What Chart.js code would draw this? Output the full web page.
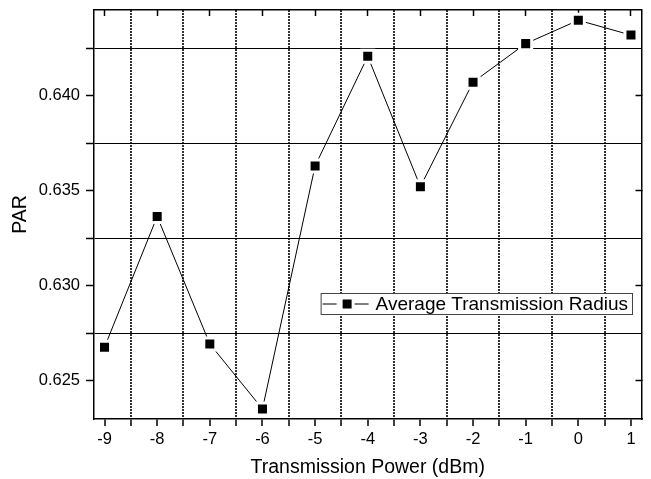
<!DOCTYPE html>
<html>
<head>
<meta charset="utf-8">
<script src="https://cdn.jsdelivr.net/npm/chart.js@4"></script>
<style>
  html, body { margin: 0; padding: 0; background: #fff; }
  #wrap { width: 651px; height: 479px; }
</style>
</head>
<body>
<div id="wrap"><canvas id="myChart" width="651" height="479"></canvas></div>
<script>
// data
const powerLevels = [-9, -8, -7, -6, -5, -4, -3, -2, -1, 0, 1];
const parValues = [0.62676, 0.63364, 0.62693, 0.62351, 0.6363, 0.64207, 0.63521, 0.64071, 0.64274, 0.64397, 0.64319];
const seriesName = "Average Transmission Radius";

// axis ticks
const xMajorTicks = [-9, -8, -7, -6, -5, -4, -3, -2, -1, 0, 1];
const xMinorTicks = [-8.5, -7.5, -6.5, -5.5, -4.5, -3.5, -2.5, -1.5, -0.5, 0.5];
const yMajorTicks = [0.625, 0.630, 0.635, 0.640];
const yMinorTicks = [0.6275, 0.6325, 0.6375, 0.6425];

const fontFamily = 'Arial, "Liberation Sans", sans-serif';

function isMinorX(v) {
  return !Number.isInteger(v);
}

function isMinorY(v) {
  return Math.round(v * 10000) % 50 !== 0;
}

function tickList(values) {
  return values.slice().sort((a, b) => a - b).map((v) => ({ value: v }));
}

// no extra room for half label heights, the frame sits at fixed spots
function noScalePadding(s) {
  s.paddingTop = 0;
  s.paddingBottom = 0;
  s.paddingLeft = 0;
  s.paddingRight = 0;
}

// legend drawn as a framed box with line + square symbol
const boxLegend = {
  id: "boxLegend",
  afterDraw(chart) {
    const ctx = chart.ctx;
    const ca = chart.chartArea;
    const label = chart.data.datasets[0].label;
    ctx.save();
    ctx.font = "19px " + fontFamily;
    const textW = ctx.measureText(label).width;
    const right = ca.right - 9.5;
    const left = right - textW - 59;
    const top = ca.top + 283;
    const h = 21;
    ctx.fillStyle = "#fff";
    ctx.fillRect(left, top, right - left, h);
    ctx.strokeStyle = "#444";
    ctx.lineWidth = 1;
    ctx.strokeRect(left + 0.5, top + 0.5, right - left, h);
    const cy = top + h / 2 + 0.5;
    ctx.strokeStyle = "#000";
    ctx.beginPath();
    ctx.moveTo(left + 2, cy);
    ctx.lineTo(left + 16, cy);
    ctx.moveTo(left + 34, cy);
    ctx.lineTo(left + 48, cy);
    ctx.stroke();
    ctx.fillStyle = "#000";
    ctx.fillRect(left + 22, cy - 4.5, 9, 9);
    ctx.textBaseline = "middle";
    ctx.textAlign = "left";
    ctx.fillText(label, left + 55, cy + 1);
    ctx.restore();
  },
};

function chart() {
  const ctx = document.getElementById("myChart");
  new Chart(ctx, {
    type: "line",
    data: returnChartData(),
    options: returnOptions(),
    plugins: [boxLegend],
  });
}

function returnChartData() {
  return {
    datasets: [
      {
        label: seriesName,
        data: powerLevels.map((x, i) => ({ x: x, y: parValues[i] })),
        borderColor: "#000",
        borderWidth: 1,
        pointStyle: "rect",
        pointRadius: 8.5,
        pointBackgroundColor: "#000",
        pointBorderColor: "#fff",
        pointBorderWidth: 3,
        tension: 0,
        fill: false,
      },
    ],
  };
}

function returnOptions() {
  return {
    responsive: false,
    animation: false,
    layout: { padding: 0, autoPadding: false },
    plugins: {
      legend: { display: false },
      tooltip: { enabled: false },
    },
    scales: returnScales(),
  };
}

function returnScales() {
  return {
    x: {
      type: "linear",
      position: "bottom",
      min: -9.2,
      max: 1.2,
      afterBuildTicks: (s) => { s.ticks = tickList(xMajorTicks.concat(xMinorTicks)); },
      afterFit: (s) => { s.height = 60; noScalePadding(s); },
      grid: {
        color: (c) => (c.tick && isMinorX(c.tick.value) ? "#333" : "rgba(0,0,0,0)"),
        lineWidth: 2,
        tickColor: "#000",
        tickLength: 7,
        tickWidth: 1.5,
      },
      border: {
        color: "#000",
        width: 1.5,
        dash: (c) => (c.tick && isMinorX(c.tick.value) ? [2, 1] : []),
      },
      ticks: {
        callback: (v) => (isMinorX(v) ? "" : String(v)),
        autoSkip: false,
        maxRotation: 0,
        color: "#000",
        padding: 4,
        font: { family: fontFamily, size: 16.5 },
      },
      title: {
        display: true,
        text: "Transmission Power (dBm)",
        color: "#000",
        font: { family: fontFamily, size: 19.5 },
        padding: { top: 0, bottom: 0 },
      },
    },
    xTop: {
      type: "linear",
      position: "top",
      min: -9.2,
      max: 1.2,
      afterBuildTicks: (s) => { s.ticks = tickList(xMajorTicks); },
      afterFit: (s) => { s.height = 10; noScalePadding(s); },
      grid: {
        drawOnChartArea: false,
        tickColor: "#000",
        tickLength: -6,
        tickWidth: 1.5,
      },
      border: { color: "#000", width: 1.5 },
      ticks: { display: false },
    },
    y: {
      type: "linear",
      position: "left",
      min: 0.62298,
      max: 0.64451,
      afterBuildTicks: (s) => { s.ticks = tickList(yMajorTicks.concat(yMinorTicks)); },
      afterFit: (s) => { s.width = 94; noScalePadding(s); },
      grid: {
        color: (c) => (c.tick && isMinorY(c.tick.value) ? "#000" : "rgba(0,0,0,0)"),
        lineWidth: 1,
        tickColor: "#000",
        tickLength: 8,
        tickWidth: 1.5,
      },
      border: { color: "#000", width: 1.5 },
      ticks: {
        callback: (v) => (isMinorY(v) ? "" : v.toFixed(3)),
        autoSkip: false,
        color: "#000",
        padding: 6,
        font: { family: fontFamily, size: 16.5 },
      },
      title: {
        display: true,
        text: "PAR",
        color: "#000",
        font: { family: fontFamily, size: 19.5 },
        padding: { top: 9, bottom: 0 },
      },
    },
    yRight: {
      type: "linear",
      position: "right",
      min: 0.62298,
      max: 0.64451,
      afterBuildTicks: (s) => { s.ticks = tickList(yMajorTicks); },
      afterFit: (s) => { s.width = 9.5; noScalePadding(s); },
      grid: {
        drawOnChartArea: false,
        tickColor: "#000",
        tickLength: -6,
        tickWidth: 1.5,
      },
      border: { color: "#000", width: 1.5 },
      ticks: { display: false },
    },
  };
}

chart();
</script>
</body>
</html>
